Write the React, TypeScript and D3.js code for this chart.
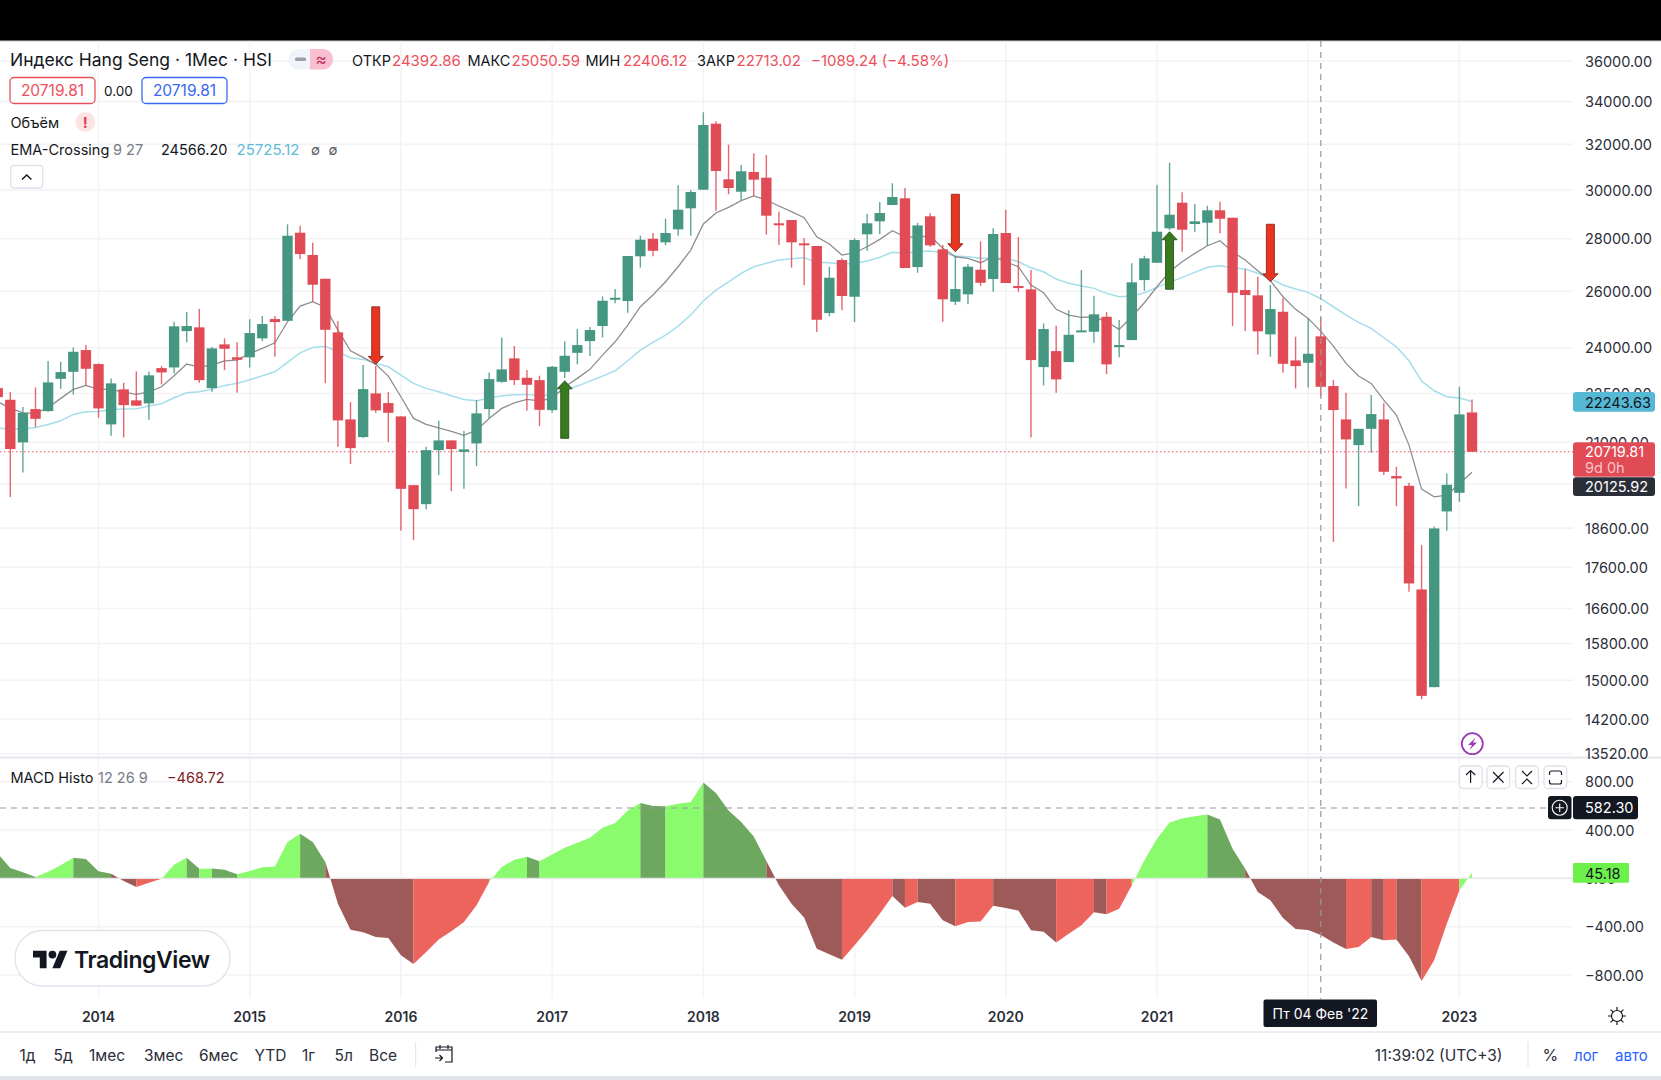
import React, { useEffect, useRef } from "react";
import * as d3 from "d3";

// monthly bars, May 2013 .. Feb 2023
const opens = [
  22670, 22300, 20996, 22008, 21946, 22971, 23200, 23923,
  23455, 21537, 22630, 22281, 22187, 23322, 23343, 24575, 24705, 22671, 24117, 23680,
  23680, 24323, 24996, 24935, 28242, 27365, 26462, 24530, 21690, 21154, 22502, 22196,
  21782, 19765, 19241, 20768, 21055, 20718, 20966, 22008, 22874, 23644, 23004, 22929,
  21977, 23200, 23832, 24230, 24750, 25713, 25641, 27315, 28003, 27860, 28377, 29234,
  30013, 32949, 30457, 29928, 30773, 30527, 28620, 28753, 27821, 27715, 25209, 27171,
  25797, 28178, 28700, 29370, 29650, 26904, 28905, 27585, 25616, 25885, 26801, 26451,
  28230, 26190, 26068, 23355, 23889, 23521, 24551, 24551, 25077, 24035, 24264, 26413,
  27068, 28418, 29466, 28591, 28644, 29151, 28847, 26042, 25848, 24461, 25255, 23577,
  23498, 24392.86, 22736, 21690, 20916, 21403, 21690, 20019, 19746, 17054, 14854, 19043,
  19552, 21905,
];
const highs = [
  22865, 22544, 22071, 22694, 23554, 23531, 24015, 24093,
  23478, 22985, 22842, 23213, 23213, 23388, 24900, 25245, 25360, 24040, 24323, 24186,
  24985, 25102, 25102, 28580, 28522, 27845, 26462, 24925, 22227, 23421, 23388, 22544,
  21782, 19765, 20866, 21647, 21055, 21334, 22290, 23181, 24357, 24059, 23256, 23070,
  23388, 24220, 24645, 24715, 25812, 26079, 27326, 28122, 28230, 28806, 30200, 30000,
  33485, 33060, 31985, 31080, 31599, 31523, 29093, 28753, 28030, 27715, 26916, 27237,
  28019, 29011, 29495, 30286, 30085, 28640, 29028, 27755, 27337, 27019, 27900, 28418,
  29175, 28070, 26790, 24845, 24760, 25305, 26790, 25833, 25245, 24960, 27045, 27337,
  30213, 31181, 29903, 29412, 29342, 29507, 28847, 26817, 26537, 26228, 25739, 24381,
  25020, 25050.59, 22929, 22521, 21403, 22448, 22187, 20284, 19830, 18158, 18644, 20095,
  22715, 22312,
];
const lows = [
  22227, 19433, 20124, 21455, 21924, 22649, 22471, 22745,
  21739, 21193, 21145, 22102, 21677, 22790, 23148, 24186, 22842, 22553, 23256, 22521,
  23343, 24230, 23700, 24935, 27198, 25616, 22832, 20866, 20361, 21124, 21894, 21005,
  18528, 18286, 19105, 20047, 19598, 19662, 20304, 21720, 22842, 22768, 21955, 21486,
  21894, 22994, 23445, 23721, 24357, 25558, 25220, 26878, 27315, 27743, 28122, 28122,
  30013, 29134, 29819, 29578, 29747, 28162, 27755, 26878, 26216, 24541, 25092, 25305,
  24890, 27530, 28190, 29370, 26866, 26688, 27688, 24900, 25497, 25523, 26190, 25980,
  26302, 25980, 21145, 22758, 22521, 23521, 24551, 24172, 23125, 23680, 24264, 26017,
  27068, 28349, 27492, 28281, 27715, 28218, 24750, 24575, 23778, 23700, 23168, 22662,
  22694, 22406.12, 18242, 19673, 19187, 20689, 20047, 19187, 16997, 14603, 14854, 18528,
  19304, 20719.81,
];
const closes = [
  22385, 20798, 21894, 21708, 22855, 23191, 23866, 23299,
  22030, 22823, 22133, 22115, 23083, 23181, 24740, 24750, 22929, 23981, 23967, 23597,
  24506, 24820, 24890, 28122, 27403, 26239, 24620, 21659, 20827, 22639, 21968, 21894,
  19662, 19105, 20768, 21055, 20798, 20789, 21875, 22962, 23280, 22929, 22778, 21986,
  23365, 23732, 24093, 24610, 25652, 25761, 27326, 27963, 27530, 28230, 29175, 29916,
  32888, 30817, 30085, 30804, 30440, 28929, 28563, 27860, 27766, 24971, 26500, 25823,
  27951, 28620, 29040, 29705, 26866, 28535, 27743, 25703, 26079, 26916, 26313, 28190,
  26302, 26116, 23587, 24645, 22952, 24447, 24600, 25163, 23445, 24093, 26328, 27237,
  28281, 28970, 28361, 28700, 29151, 28806, 25943, 25860, 24565, 25352, 23464, 23388,
  23799, 22713.02, 21977, 21085, 21403, 21853, 20141, 19953, 17200, 14672, 18591, 19774,
  21844, 20719.81,
];
const emaFast = [
  22237, 22039, 21894, 21875, 22050, 22344, 22630, 22758,
  22630, 22630, 22544, 22471, 22553, 22713, 23070, 23455, 23355, 23421, 23564, 23587,
  23812, 23981, 24172, 24900, 25460, 25616, 25413, 24610, 23900, 23680, 23445, 23060,
  22395, 21720, 21537, 21434, 21325, 21205, 21364, 21720, 22030, 22205, 22312, 22268,
  22344, 22713, 22985, 23280, 23755, 24206, 24785, 25435, 25860, 26350, 26916, 27558,
  28591, 29040, 29275, 29550, 29747, 29578, 29329, 29093, 28847, 28080, 27794, 27365,
  27454, 27688, 27978, 28320, 28080, 28080, 28110, 27625, 27298, 27237, 27068, 27298,
  27106, 26916, 26228, 25943, 25342, 25138, 25056, 25077, 24900, 24635, 25077, 25580,
  26164, 26726, 27106, 27430, 27727, 27923, 27492, 27171, 26764, 26387, 25797, 25342,
  25020, 24566.2, 24059, 23478, 23060, 22823, 22290, 21822, 20916, 19654, 19441, 19488,
  19813, 20125.92,
];
const emaSlow = [
  21425, 21394, 21394, 21446, 21537, 21647, 21844, 21924,
  21937, 21999, 22008, 22018, 22102, 22174, 22363, 22521, 22553, 22639, 22758, 22823,
  22939, 23070, 23200, 23511, 23832, 24015, 24050, 23866, 23664, 23610, 23478, 23365,
  23092, 22823, 22662, 22553, 22426, 22312, 22268, 22344, 22426, 22458, 22471, 22426,
  22448, 22607, 22736, 22897, 23060, 23233, 23564, 23923, 24186, 24437, 24750, 25138,
  25641, 26042, 26350, 26666, 26916, 27045, 27171, 27221, 27260, 27083, 27068, 27007,
  27045, 27133, 27276, 27469, 27430, 27492, 27519, 27454, 27326, 27298, 27237, 27237,
  27237, 27106, 26878, 26726, 26451, 26291, 26190, 26105, 25922, 25797, 25823, 25943,
  26142, 26328, 26515, 26703, 26893, 26954, 26878, 26828, 26666, 26477, 26228, 26079,
  25958, 25725.12, 25435, 25138, 24880, 24670, 24344, 24035, 23564, 22897, 22585, 22395,
  22353, 22243.63,
];
const macdHist = [
  204, 85, 50, 11, 55, 108, 171, 160,
  58, 39, -22, -72, -36, -3, 113, 171, 80, 82, 72, 33,
  61, 91, 99, 300, 369, 300, 135, -210, -425, -447, -485, -494,
  -637, -709, -609, -507, -438, -361, -223, -30, 94, 154, 179, 141,
  198, 254, 295, 336, 419, 458, 562, 623, 598, 597, 618, 631,
  794, 706, 562, 466, 347, 143, -58, -210, -325, -582, -629, -673,
  -554, -430, -292, -146, -243, -196, -210, -347, -397, -361, -358, -226,
  -245, -267, -430, -441, -532, -458, -389, -281, -298, -251, -58, 149,
  328, 463, 496, 513, 529, 488, 245, 80, -113, -182, -328, -419,
  -427, -468.72, -532, -584, -568, -485, -513, -507, -645, -849, -678, -375,
  -99, 45.18,
];
const priceTicks = [36000, 34000, 32000, 30000, 28000, 26000, 24000, 22500, 21000, 19800, 18600, 17600, 16600, 15800, 15000, 14200, 13520];
const macdTicks = [800, 400, 0, -400, -800];
const yearLabels = ["2014", "2015", "2016", "2017", "2018", "2019", "2020", "2021", "2022", "2023"];
const rangeLabels = ["1д", "5д", "1мес", "3мес", "6мес", "YTD", "1г", "5л", "Все"];
const rangeLabelX = [19.5, 53.5, 89, 144, 199, 254.5, 302, 334.5, 369];

// EMA crossing signals: bar index, where the tip sits, direction
const signalBars = [30, 45, 76, 93, 101];
const signalPrices = [23445, 22906, 27492, 28281, 26350];
const signalDown = [true, false, true, false, true];

const lastPrice = 20719.81;

const GREEN = "#459782";
const RED = "#e04b55";
const GRID = "#f3f3f6";
const FONT = "Inter, 'Noto Sans', sans-serif";

export default function App() {
  const ref = useRef<SVGSVGElement | null>(null);

  useEffect(() => {
    if (!ref.current) return;
    const svg = d3.select(ref.current);
    svg.selectAll("*").remove();

    const bars = d3.range(opens.length);
    const x = d3.scaleLinear().domain([8, 117]).range([98.5, 1472]);
    const y = d3.scaleLog().domain([30000, 14200]).range([190, 719]);
    const yMacd = d3.scaleLinear().domain([800, -800]).range([781.7, 975]);
    const yearBar = (k: number) => 8 + k * 12;
    const crossX = 1320.8;

    const text = (
      s: string,
      tx: number,
      ty: number,
      opts: { size?: number; fill?: string; anchor?: string; weight?: number } = {}
    ) =>
      svg
        .append("text")
        .attr("x", tx)
        .attr("y", ty)
        .attr("dominant-baseline", "central")
        .attr("font-family", FONT)
        .attr("font-size", opts.size ?? 14.5)
        .attr("font-weight", opts.weight ?? 400)
        .attr("text-anchor", opts.anchor ?? "start")
        .attr("fill", opts.fill ?? "#131722")
        .text(s);

    const box = (bx: number, by: number, w: number, h: number, fill: string, stroke = "none", r = 3) =>
      svg
        .append("rect")
        .attr("x", bx)
        .attr("y", by)
        .attr("width", w)
        .attr("height", h)
        .attr("rx", r)
        .attr("fill", fill)
        .attr("stroke", stroke)
        .attr("stroke-width", stroke === "none" ? 0 : 1.3);

    const line = (x1: number, y1: number, x2: number, y2: number, stroke: string, w = 1.5, dash = "") =>
      svg
        .append("line")
        .attr("x1", x1)
        .attr("y1", y1)
        .attr("x2", x2)
        .attr("y2", y2)
        .attr("stroke", stroke)
        .attr("stroke-width", w)
        .attr("stroke-dasharray", dash);

    box(0, 0, 1661, 1080, "#fff", "none", 0);
    box(0, 0, 1661, 40, "#000", "none", 0);
    box(0, 40, 1661, 1.2, "#6a6a6a", "none", 0);

    // grid
    priceTicks.filter((t) => y(t) < 757).forEach((t) => line(0, y(t), 1573, y(t), GRID, 1.6));
    macdTicks.forEach((t) => line(0, yMacd(t), 1573, yMacd(t), GRID, 1.6));
    yearLabels.forEach((_, k) => line(x(yearBar(k)), 41, x(yearBar(k)), 998, GRID, 1.4));

    // EMA lines sit behind the candles
    const emaLine = (values: number[]) =>
      d3
        .line<number>()
        .x((i) => x(i))
        .y((i) => y(values[i]));
    svg.append("path").attr("d", emaLine(emaSlow)(bars)).attr("fill", "none").attr("stroke", "#a3deea").attr("stroke-width", 1.5);
    svg.append("path").attr("d", emaLine(emaFast)(bars)).attr("fill", "none").attr("stroke", "#8f8d91").attr("stroke-width", 1.3);

    // last price line
    line(0, y(lastPrice), 1573, y(lastPrice), "#ef5561", 1.2, "1.5 2.5");

    // candles
    const candle = svg
      .append("g")
      .selectAll("g")
      .data(bars)
      .join("g");
    candle
      .append("line")
      .attr("x1", (i) => x(i))
      .attr("x2", (i) => x(i))
      .attr("y1", (i) => y(highs[i]))
      .attr("y2", (i) => y(lows[i]))
      .attr("stroke", (i) => (closes[i] >= opens[i] ? GREEN : RED))
      .attr("stroke-opacity", 0.85)
      .attr("stroke-width", 1.4);
    candle
      .append("rect")
      .attr("x", (i) => x(i) - 5.2)
      .attr("width", 10.4)
      .attr("y", (i) => y(Math.max(opens[i], closes[i])))
      .attr("height", (i) => Math.max(2, Math.abs(y(opens[i]) - y(closes[i]))))
      .attr("fill", (i) => (closes[i] >= opens[i] ? GREEN : RED));

    // signal arrows
    signalBars.forEach((bar, k) => {
      const ax = x(bar);
      const tip = y(signalPrices[k]);
      const dir = signalDown[k] ? -1 : 1;
      const pts = [
        [ax, tip],
        [ax + 7.5, tip + dir * 8],
        [ax + 4, tip + dir * 8],
        [ax + 4, tip + dir * 57.5],
        [ax - 4, tip + dir * 57.5],
        [ax - 4, tip + dir * 8],
        [ax - 7.5, tip + dir * 8],
      ];
      svg
        .append("polygon")
        .attr("points", pts.map((p) => p.join(",")).join(" "))
        .attr("fill", signalDown[k] ? "#e93420" : "#3a7a1e")
        .attr("stroke", signalDown[k] ? "#8a2a1c" : "#26501a")
        .attr("stroke-width", 0.9);
    });

    // MACD histogram: every span takes the colour of the bar it ends on,
    // spans of one colour are merged so no seams show between them
    const macdColor = (i: number) => {
      const rising = macdHist[i] >= macdHist[i - 1];
      if (macdHist[i] >= 0) return rising ? "#8bfb6e" : "#6ca95f";
      return rising ? "#ec645c" : "#9e5a58";
    };
    const macdArea = d3
      .area<number>()
      .x((i) => x(i))
      .y0(yMacd(0))
      .y1((i) => yMacd(macdHist[i]));
    let run = [0];
    bars.slice(1).forEach((i) => {
      run.push(i);
      if (i === bars.length - 1 || macdColor(i + 1) !== macdColor(i)) {
        svg.append("path").attr("d", macdArea(run)).attr("fill", macdColor(i));
        run = [i];
      }
    });
    line(0, yMacd(0), 1573, yMacd(0), "#e6e6ea", 1.2);

    // crosshair
    line(crossX, 41, crossX, 999, "#9598a1", 1.2, "6 5");
    line(0, yMacd(582.3), 1548, yMacd(582.3), "#9598a1", 1.2, "6 5");

    // pane separators
    box(0, 756.5, 1661, 2.2, "#e8e9ef", "none", 0);
    box(0, 1031, 1661, 2, "#eceef2", "none", 0);
    box(0, 1076, 1661, 4, "#e0e3eb", "none", 0);

    // legend
    text("Индекс Hang Seng · 1Мес · HSI", 10, 59, { size: 17.5 });
    box(288.5, 49, 44.5, 20.5, "#f0f3fa", "none", 10);
    svg.append("path").attr("d", "M310 49h13a10 10 0 0 1 10 10.2a10 10 0 0 1 -10 10.3h-13z").attr("fill", "#f7bfcf");
    box(295, 57.5, 11, 3.5, "#9b9ea8", "none", 1.5);
    text("≈", 321, 59, { size: 17, fill: "#c2305f", anchor: "middle" });

    const ohlc: [string, number, string, number][] = [
      ["ОТКР", 352, "24392.86", 392],
      ["МАКС", 467.5, "25050.59", 511.5],
      ["МИН", 585.5, "22406.12", 623],
      ["ЗАКР", 697, "22713.02", 736.6],
    ];
    ohlc.forEach(([name, nx, val, vx]) => {
      text(name, nx, 60, { size: 14.5 });
      text(val, vx, 60, { size: 15, fill: "#ee4f5b" });
    });
    text("−1089.24 (−4.58%)", 811, 60, { size: 15, fill: "#ee4f5b" });

    box(10, 77.5, 85, 26, "#fff", "#e8505c", 4);
    text("20719.81", 52.5, 90.5, { size: 15.5, fill: "#ee4f5b", anchor: "middle" });
    text("0.00", 118.5, 90.5, { size: 13.5, anchor: "middle" });
    box(142, 77.5, 85, 26, "#fff", "#3b68f0", 4);
    text("20719.81", 184.5, 90.5, { size: 15.5, fill: "#3b68f0", anchor: "middle" });

    text("Объём", 10.5, 122.5, { size: 14.5 });
    svg.append("circle").attr("cx", 85.4).attr("cy", 122).attr("r", 10).attr("fill", "#fbe3e4");
    text("!", 85.4, 122, { size: 15, weight: 700, fill: "#e0414e", anchor: "middle" });

    text("EMA-Crossing", 10.5, 149.5, { size: 14.5 });
    text("9 27", 113, 149.5, { size: 14.5, fill: "#787b86" });
    text("24566.20", 161, 149.5, { size: 14.5 });
    text("25725.12", 236.5, 149.5, { size: 15, fill: "#5fbcd8" });
    text("∅", 315.5, 149.5, { size: 13, anchor: "middle", fill: "#50535e" });
    text("∅", 333, 149.5, { size: 13, anchor: "middle", fill: "#50535e" });

    box(10.7, 165.5, 32, 22.5, "#fff", "#e0e3eb", 3);
    svg.append("path").attr("d", "M22 179.5l4.7-4.5l4.7 4.5").attr("fill", "none").attr("stroke", "#131722").attr("stroke-width", 1.5);

    // lightning badge
    svg.append("circle").attr("cx", 1472.3).attr("cy", 743.7).attr("r", 10.5).attr("fill", "#fff").attr("stroke", "#9c3bb5").attr("stroke-width", 1.8);
    svg.append("path").attr("d", "M1475.5 737.5l-7.5 7.5h4l-2.5 5l7.5 -7.5h-4z").attr("fill", "#9c3bb5");

    // price axis
    priceTicks.forEach((t) => {
      if (y(t) < 762) text(d3.format(".2f")(t), 1585, y(t), { size: 14.5, fill: "#2a2e39" });
    });
    box(1573, 392, 82, 19.7, "#55b8d4");
    text("22243.63", 1585, y(22243.63) + 1, { size: 14.5, fill: "#131722" });
    box(1573, 442.3, 82, 34.5, "#e04b55");
    text("20719.81", 1585, y(lastPrice), { size: 14.5, fill: "#fff" });
    text("9d 0h", 1585, 467, { size: 14.5, fill: "#f8c3c7" });
    box(1573, 477.3, 82, 18.8, "#2a2e39");
    text("20125.92", 1585, 486.8, { size: 14.5, fill: "#fff" });

    // MACD pane
    text("MACD Histo", 10.5, 777, { size: 14.5 });
    text("12 26 9", 98, 777, { size: 14.5, fill: "#787b86" });
    text("−468.72", 167, 777, { size: 14.5, fill: "#7f1d24" });

    macdTicks.forEach((t) => {
      const label = d3.format(".2f")(Math.abs(t));
      text(t < 0 ? "−" + label : label, 1585, yMacd(t), { size: 14.5, fill: "#2a2e39" });
    });
    box(1573, 863, 56, 19.7, "#6cf14a", "none", 1);
    text("45.18", 1585, 873, { size: 14.5, fill: "#131722" });
    box(1548, 796, 23.5, 23.3, "#131722");
    svg.append("circle").attr("cx", 1559.7).attr("cy", 807.7).attr("r", 7.5).attr("fill", "none").attr("stroke", "#fff").attr("stroke-width", 1.1);
    svg.append("path").attr("d", "M1555.5 807.7h8.4M1559.7 803.5v8.4").attr("stroke", "#fff").attr("stroke-width", 1.1);
    box(1573, 796, 65, 23.3, "#131722");
    text("582.30", 1585, 807.7, { size: 14.5, fill: "#fff" });

    // pane buttons
    const btnX = [1459.3, 1487, 1515.7, 1544];
    btnX.forEach((bx) => box(bx, 766, 22.7, 22.5, "#fff", "#dfe1e8", 4));
    const iconStyle = (d: string) =>
      svg.append("path").attr("d", d).attr("fill", "none").attr("stroke", "#131722").attr("stroke-width", 1.2);
    iconStyle("M1470.6 783v-12.5M1466 775l4.6-4.5l4.6 4.5");
    iconStyle("M1493 772l10.5 10.5M1503.5 772l-10.5 10.5");
    iconStyle("M1522 771l5 5l5 -5M1522 784l5 -5l5 5");
    iconStyle("M1549.5 775v-2a2 2 0 0 1 2 -2h8a2 2 0 0 1 2 2v2M1549.5 780v2a2 2 0 0 0 2 2h8a2 2 0 0 0 2 -2v-2");

    // TradingView badge
    box(15, 930.5, 215, 55.5, "#fff", "#e0e3eb", 27.5);
    const logo = svg.append("g").attr("transform", "translate(33,946.8) scale(0.97)").attr("fill", "#131722");
    logo.append("path").attr("d", "M14 22H7V11H0V4h14v18zM28 22h-8l7.5-18h8L28 22z");
    logo.append("circle").attr("cx", 20).attr("cy", 8).attr("r", 4);
    text("TradingView", 74, 959.5, { size: 23, weight: 600 }).attr("letter-spacing", -0.4);

    // time axis
    yearLabels.forEach((label, k) => {
      if (label !== "2022") text(label, x(yearBar(k)), 1016.5, { size: 14, weight: 600, anchor: "middle", fill: "#2a2e39" });
    });
    box(1263.5, 999.5, 113.5, 27.5, "#131722", "none", 2);
    text("Пт 04 Фев '22", 1320.5, 1013.5, { size: 14, fill: "#fff", anchor: "middle" });

    // gear
    svg.append("circle").attr("cx", 1617).attr("cy", 1016).attr("r", 5.5).attr("fill", "none").attr("stroke", "#131722").attr("stroke-width", 1.2);
    svg.append("path").attr("d", "M1617 1007v3.5M1617 1021.5v3.5M1608 1016h3.5M1622.5 1016h3.5M1610.6 1009.6l2.5 2.5M1620.9 1019.9l2.5 2.5M1610.6 1022.4l2.5 -2.5M1620.9 1012.1l2.5 -2.5").attr("stroke", "#131722").attr("stroke-width", 1.2);

    // bottom bar
    rangeLabels.forEach((label, k) => text(label, rangeLabelX[k], 1055, { size: 15.5, fill: "#2a2e39" }));
    line(415.6, 1042, 415.6, 1067, "#e6e8ee", 1.2);
    iconStyle("M436 1052v-5h16v15h-7M436 1050h16M440 1045v4M448 1045v4M435 1058h7M439.5 1055l3 3l-3 3");
    text("11:39:02 (UTC+3)", 1374.8, 1055, { size: 15.5, fill: "#2a2e39" });
    line(1528, 1042, 1528, 1067, "#e6e8ee", 1.2);
    text("%", 1542.5, 1055, { size: 16, fill: "#2a2e39" });
    text("лог", 1574, 1055, { size: 15, fill: "#2962ff" });
    text("авто", 1615, 1055, { size: 15, fill: "#2962ff" });
  }, []);

  return (
    <svg
      ref={ref}
      width={1661}
      height={1080}
      viewBox="0 0 1661 1080"
      style={{ position: "absolute", top: 0, left: 0, display: "block" }}
    />
  );
}
